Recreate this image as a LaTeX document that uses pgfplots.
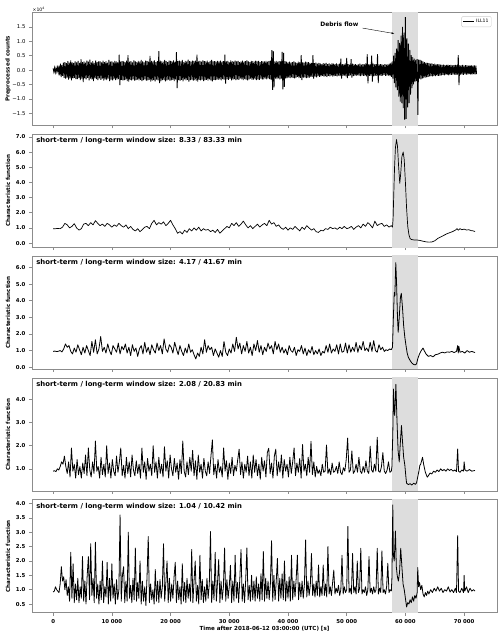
\documentclass[border=0pt]{standalone}
\usepackage{pgfplots}
\pgfplotsset{compat=1.18}
\usetikzlibrary{arrows.meta}
\usepackage{fontspec}
\setmainfont{DejaVu Sans}
\newcommand\tickfont{\fontsize{5.4}{6}\selectfont\bfseries}
\newcommand\labfont{\fontsize{5.6}{6.5}\selectfont\bfseries}
\newcommand\titfont{\fontsize{6.9}{7.5}\selectfont\bfseries}
\definecolor{spancol}{RGB}{221,221,221}
\definecolor{framecol}{RGB}{140,140,140}
\pgfplotsset{
  panel/.style={
    scale only axis, width=465bp, height=113bp,
    xmin=-3600, xmax=75600,
    scaled x ticks=false, scaled y ticks=false,
    xtick={0,10000,20000,30000,40000,50000,60000,70000},
    xticklabels={},
    tick pos=left, tick align=outside, major tick length=3bp,
    axis line style={framecol, line width=0.6pt},
    tick style={framecol, line width=0.6pt},
    tick label style={font=\tickfont},
    every axis y label/.style={at={(axis description cs:-0.0516,0.5)}, rotate=90, anchor=center, font=\labfont},
    ylabel={Characteristic function},
    clip=true, clip mode=individual,
    anchor=north west,
  },
  sig/.style={black, line width=0.8pt, line join=round},
}
\begin{document}
\begin{tikzpicture}
\useasboundingbox (-32bp,12.3bp) rectangle (468bp,-623.7bp);

% ---------------- Panel 1
\begin{axis}[panel, at={(0bp,0bp)},
  ymin=-1.92, ymax=2.01,
  ytick={-1.5,-1,-0.5,0,0.5,1,1.5},
  yticklabels={−1.5,−1.0,−0.5,0.0,0.5,1.0,1.5},
  yticklabel style={font=\fontsize{5.4}{6}\selectfont},
  ylabel={Preprocessed counts},
  legend style={at={(rel axis cs:0.988,0.965)}, anchor=north east, draw=gray!40, rounded corners=1.2pt,
    font=\fontsize{4.6}{5}\selectfont, inner sep=0.8pt},
  legend image code/.code={\draw[black, line width=0.7pt] (0bp,0bp) -- (11bp,0bp);},
]
\addplot[fill=spancol, draw=none, forget plot] coordinates {(57800,-50)(62100,-50)(62100,50)(57800,50)};
\addplot[black, line width=0.85pt] table[x expr=\coordindex*125, y index=0, header=false, row sep=\\] {
0.06\\-0.07\\0.08\\-0.08\\0.07\\-0.06\\0.09\\-0.08\\
0.15\\-0.18\\0.22\\-0.24\\0.18\\-0.20\\0.26\\-0.27\\
0.28\\-0.30\\0.24\\-0.26\\0.31\\-0.33\\0.26\\-0.28\\0.34\\-0.36\\0.27\\-0.29\\0.25\\-0.27\\0.30\\-0.31\\
0.27\\-0.31\\0.32\\-0.28\\0.25\\-0.35\\0.38\\-0.30\\0.28\\-0.42\\0.30\\-0.29\\0.26\\-0.32\\0.33\\-0.27\\0.29\\-0.36\\0.36\\-0.30\\0.27\\-0.33\\0.31\\-0.38\\0.25\\-0.28\\0.34\\-0.31\\0.28\\-0.35\\0.30\\-0.29\\
0.30\\-0.34\\0.27\\-0.30\\0.33\\-0.37\\0.28\\-0.32\\0.31\\-0.35\\0.26\\-0.30\\0.35\\-0.38\\0.29\\-0.33\\0.30\\-0.36\\0.27\\-0.31\\0.32\\-0.35\\0.30\\-0.33\\0.28\\-0.31\\0.54\\-0.52\\0.29\\-0.34\\0.31\\-0.36\\
0.30\\-0.35\\0.28\\-0.33\\0.33\\-0.38\\0.52\\-0.40\\0.29\\-0.34\\0.31\\-0.36\\0.27\\-0.32\\0.34\\-0.37\\0.30\\-0.35\\0.28\\-0.33\\0.32\\-0.36\\0.29\\-0.34\\0.35\\-0.38\\0.30\\-0.35\\0.27\\-0.32\\0.33\\-0.37\\
0.31\\-0.36\\0.29\\-0.34\\0.49\\-0.40\\0.32\\-0.37\\0.30\\-0.35\\0.34\\-0.39\\0.28\\-0.33\\0.31\\-0.36\\0.66\\-0.45\\0.33\\-0.38\\0.30\\-0.35\\0.29\\-0.34\\0.35\\-0.39\\0.31\\-0.36\\0.28\\-0.33\\0.33\\-0.37\\
0.32\\-0.36\\0.30\\-0.34\\0.34\\-0.38\\0.29\\-0.33\\0.62\\-0.63\\0.31\\-0.35\\0.33\\-0.37\\0.30\\-0.34\\0.35\\-0.39\\0.28\\-0.32\\0.32\\-0.36\\0.30\\-0.34\\0.36\\-0.40\\0.31\\-0.35\\0.29\\-0.33\\0.33\\-0.37\\
0.31\\-0.35\\0.33\\-0.37\\0.54\\-0.40\\0.30\\-0.34\\0.32\\-0.36\\0.29\\-0.33\\0.34\\-0.38\\0.31\\-0.35\\0.30\\-0.34\\0.33\\-0.37\\0.28\\-0.32\\0.32\\-0.36\\0.35\\-0.39\\0.30\\-0.34\\0.31\\-0.35\\0.29\\-0.33\\
0.32\\-0.34\\0.30\\-0.32\\0.33\\-0.36\\0.29\\-0.31\\0.31\\-0.33\\0.54\\-0.47\\0.30\\-0.32\\0.32\\-0.34\\0.28\\-0.30\\0.34\\-0.36\\0.31\\-0.33\\0.29\\-0.31\\0.33\\-0.35\\0.30\\-0.32\\0.32\\-0.34\\0.28\\-0.30\\
0.30\\-0.32\\0.33\\-0.35\\0.29\\-0.31\\0.31\\-0.33\\0.34\\-0.36\\0.30\\-0.32\\0.28\\-0.30\\0.32\\-0.34\\0.31\\-0.33\\0.29\\-0.31\\0.33\\-0.35\\0.30\\-0.32\\0.32\\-0.34\\0.28\\-0.30\\0.31\\-0.33\\0.30\\-0.32\\
0.30\\-0.30\\0.32\\-0.32\\0.29\\-0.29\\0.31\\-0.31\\0.33\\-0.33\\0.69\\-0.69\\0.66\\-0.60\\0.30\\-0.30\\0.32\\-0.31\\0.29\\-0.29\\0.31\\-0.32\\0.30\\-0.30\\0.63\\-0.67\\0.60\\-0.58\\0.31\\-0.30\\0.29\\-0.28\\
0.27\\-0.26\\0.29\\-0.28\\0.26\\-0.25\\0.28\\-0.27\\0.30\\-0.29\\0.27\\-0.26\\0.25\\-0.24\\0.29\\-0.28\\0.28\\-0.27\\0.52\\-0.35\\0.27\\-0.26\\0.26\\-0.25\\0.29\\-0.28\\0.27\\-0.26\\0.28\\-0.27\\0.25\\-0.24\\
0.25\\-0.24\\0.52\\-0.30\\0.24\\-0.23\\0.26\\-0.25\\0.22\\-0.21\\0.25\\-0.24\\0.23\\-0.22\\0.21\\-0.20\\0.24\\-0.23\\0.22\\-0.21\\0.25\\-0.24\\0.21\\-0.20\\0.23\\-0.22\\0.20\\-0.19\\0.24\\-0.23\\0.22\\-0.21\\
0.21\\-0.20\\0.23\\-0.22\\0.20\\-0.19\\0.22\\-0.21\\0.40\\-0.30\\0.21\\-0.20\\0.20\\-0.19\\0.23\\-0.22\\0.42\\-0.28\\0.21\\-0.20\\0.19\\-0.18\\0.38\\-0.26\\0.22\\-0.21\\0.20\\-0.19\\0.21\\-0.20\\0.19\\-0.18\\
0.20\\-0.19\\0.22\\-0.21\\0.19\\-0.18\\0.21\\-0.20\\0.20\\-0.19\\0.23\\-0.22\\0.55\\-0.46\\0.21\\-0.20\\0.20\\-0.19\\0.50\\-0.40\\0.22\\-0.21\\0.20\\-0.19\\0.21\\-0.20\\0.55\\-0.45\\0.20\\-0.19\\0.21\\-0.20\\
0.20\\-0.19\\0.18\\-0.17\\0.21\\-0.20\\0.19\\-0.18\\0.20\\-0.19\\0.22\\-0.21\\0.25\\-0.24\\
0.30\\-0.30\\0.50\\-0.45\\0.60\\-0.60\\0.75\\-0.70\\1.04\\-0.92\\0.95\\-1.10\\1.20\\-1.15\\1.50\\-1.32\\1.30\\-1.73\\1.84\\-1.70\\1.10\\-1.30\\0.92\\-1.15\\0.70\\-0.85\\0.52\\-0.63\\0.45\\-0.50\\0.40\\-0.42\\0.35\\-0.38\\0.38\\-1.56\\
0.36\\-0.30\\0.35\\-0.32\\0.33\\-0.30\\0.30\\-0.28\\0.28\\-0.26\\0.26\\-0.25\\0.25\\-0.24\\0.24\\-0.22\\0.22\\-0.21\\0.23\\-0.22\\0.21\\-0.20\\0.22\\-0.21\\0.20\\-0.19\\0.21\\-0.20\\0.20\\-0.19\\0.19\\-0.18\\
0.18\\-0.17\\0.19\\-0.18\\0.17\\-0.16\\0.18\\-0.17\\0.19\\-0.18\\0.17\\-0.16\\0.18\\-0.17\\0.16\\-0.15\\0.17\\-0.16\\0.18\\-0.17\\0.17\\-0.16\\
0.52\\-0.52\\
0.17\\-0.16\\0.16\\-0.15\\0.18\\-0.17\\0.15\\-0.14\\0.17\\-0.16\\0.16\\-0.15\\0.15\\-0.14\\0.17\\-0.16\\0.16\\-0.15\\0.15\\-0.14\\0.16\\-0.15\\0.15\\-0.14\\
};
\addlegendentry{ILL11}
\node[anchor=south west, font=\fontsize{4.6}{5}\selectfont, inner sep=0.5pt] at (rel axis cs:0,1) {×10\textsuperscript{4}};
\node[font=\fontsize{6}{7}\selectfont\bfseries, anchor=center] at (axis cs:48750,1.59) {Debris flow};
\draw[-{Stealth[length=3pt,width=2pt]}, line width=0.4pt] (axis cs:52700,1.46) -- (axis cs:58090,1.27);
\end{axis}

% ---------------- Panel 2
\begin{axis}[panel, at={(0bp,-121.85bp)},
  ymin=-0.27, ymax=7.19,
  ytick={0,1,2,3,4,5,6,7},
  yticklabels={0.0,1.0,2.0,3.0,4.0,5.0,6.0,7.0},
]
\addplot[fill=spancol, draw=none, forget plot] coordinates {(57800,-50)(62100,-50)(62100,50)(57800,50)};
\addplot[sig, line width=0.7pt] table[x expr=\coordindex*400, y index=0, header=false, row sep=\\] {
0.95\\0.95\\0.96\\0.95\\1.05\\1.3\\1.2\\1.0\\1.1\\1.28\\
1.0\\0.85\\0.95\\1.25\\1.3\\1.15\\1.35\\1.2\\1.48\\1.3\\
1.15\\1.25\\1.1\\1.3\\1.2\\1.05\\1.2\\1.1\\1.3\\1.15\\
1.05\\1.2\\0.95\\1.1\\0.9\\0.8\\0.95\\0.75\\0.9\\1.05\\
1.1\\0.95\\1.3\\1.5\\1.2\\1.35\\1.25\\1.4\\1.15\\1.3\\
1.5\\1.2\\0.95\\0.65\\0.75\\0.6\\0.85\\0.7\\0.95\\0.8\\
1.0\\0.85\\1.05\\0.8\\0.95\\0.85\\0.9\\0.75\\0.85\\0.7\\
0.9\\0.65\\0.8\\0.95\\1.1\\1.0\\1.3\\1.15\\1.35\\1.1\\
1.25\\1.45\\1.2\\1.0\\1.15\\0.95\\1.1\\1.25\\1.05\\1.2\\
1.3\\1.15\\1.5\\1.25\\1.35\\1.1\\1.2\\1.0\\0.9\\1.05\\
0.85\\1.0\\0.9\\1.1\\0.95\\0.8\\1.05\\0.9\\1.15\\1.0\\
0.85\\0.95\\0.75\\0.7\\0.85\\0.8\\0.95\\0.9\\1.05\\0.95\\
1.0\\0.9\\1.05\\0.95\\1.1\\0.95\\1.0\\1.1\\0.9\\1.05\\
1.15\\1.0\\1.25\\1.1\\1.35\\1.2\\1.0\\1.45\\1.15\\1.25\\
1.3\\1.1\\1.2\\1.05\\1.15\\
};
\addplot[sig, line width=0.7pt] coordinates {(57600,1.15)(57800,1.05)(57900,1.6)(58000,3.0)(58150,5.0)(58300,6.3)(58480,6.83)(58650,6.4)(58850,5.0)(59040,3.94)(59200,4.6)(59400,5.7)(59620,6.01)(59800,5.5)(60000,4.0)(60200,2.3)(60400,1.1)(60600,0.55)(60800,0.3)(61000,0.24)(61500,0.2)(62000,0.2)(62500,0.17)(63000,0.12)(63500,0.08)(64000,0.06)(64500,0.07)(65000,0.15)(65500,0.3)(66000,0.4)(66500,0.5)(67000,0.6)(67500,0.68)(68000,0.75)(68500,0.85)(68800,0.95)(69000,0.85)(69300,0.95)(69600,0.88)(70000,0.92)(70400,0.86)(70800,0.88)(71200,0.82)(71600,0.8)(71850,0.76)};
\node[anchor=north west, font=\titfont, inner sep=0pt] at (rel axis cs:0.009,0.972) {short-term / long-term window size: 8.33 / 83.33 min};
\end{axis}

% ---------------- Panel 3
\begin{axis}[panel, at={(0bp,-243.7bp)},
  ymin=-0.11, ymax=6.7,
  ytick={0,1,2,3,4,5,6},
  yticklabels={0.0,1.0,2.0,3.0,4.0,5.0,6.0},
]
\addplot[fill=spancol, draw=none, forget plot] coordinates {(57800,-50)(62100,-50)(62100,50)(57800,50)};
\addplot[sig] table[x expr=\coordindex*300, y index=0, header=false, row sep=\\] {
0.95\\0.97\\0.94\\0.96\\1.0\\0.92\\1.1\\1.4\\1.2\\1.3\\
0.95\\0.8\\1.15\\0.9\\1.35\\1.05\\0.75\\1.2\\0.85\\1.3\\
1.0\\0.7\\1.55\\0.9\\1.65\\0.8\\1.1\\1.85\\0.95\\1.2\\
0.85\\1.4\\1.0\\0.75\\1.3\\1.1\\0.9\\1.45\\0.8\\1.25\\
1.05\\1.4\\0.85\\1.2\\0.7\\1.35\\0.95\\1.15\\0.65\\1.1\\
1.3\\0.8\\1.5\\0.9\\1.2\\0.75\\1.35\\1.05\\0.85\\1.45\\
1.0\\1.3\\0.8\\1.7\\1.1\\0.9\\1.35\\1.2\\0.85\\1.5\\
1.1\\0.75\\1.3\\0.95\\0.7\\1.15\\0.85\\1.4\\0.9\\1.05\\
0.75\\0.5\\0.85\\0.65\\1.2\\0.8\\1.65\\0.9\\1.3\\1.05\\
1.2\\0.7\\1.1\\0.85\\0.6\\1.0\\0.65\\1.55\\0.9\\0.7\\
1.1\\0.85\\1.4\\0.95\\1.8\\1.1\\1.45\\0.8\\1.3\\0.95\\
1.55\\0.85\\1.2\\0.7\\1.4\\1.0\\1.6\\0.9\\1.3\\0.75\\
1.2\\0.95\\1.45\\1.1\\1.3\\0.8\\1.55\\1.05\\1.4\\0.9\\
1.2\\0.85\\1.1\\0.75\\1.3\\1.0\\0.9\\1.2\\0.7\\1.05\\
0.95\\1.3\\0.8\\1.15\\0.7\\1.05\\0.85\\1.25\\0.75\\1.0\\
0.8\\1.1\\0.7\\0.95\\0.85\\1.3\\0.9\\1.4\\0.85\\1.1\\
0.95\\1.35\\0.8\\1.4\\0.9\\0.95\\1.45\\0.85\\1.35\\0.9\\
1.2\\0.95\\1.5\\0.9\\1.3\\1.05\\1.55\\1.0\\1.15\\0.95\\
1.5\\0.95\\1.6\\1.0\\0.9\\1.35\\1.05\\1.2\\0.95\\1.05\\
1.0\\1.1\\1.05\\
};
\addplot[sig] coordinates {(57600,1.05)(57800,1.2)(57950,3.0)(58100,4.5)(58200,4.3)(58360,6.3)(58500,5.0)(58650,3.0)(58770,2.1)(58950,3.0)(59150,4.2)(59300,4.45)(59500,3.6)(59700,2.5)(59900,1.8)(60100,1.3)(60300,0.85)(60500,0.6)(60800,0.4)(61100,0.25)(61400,0.16)(61700,0.14)(61900,0.2)(62100,0.5)(62400,0.8)(62700,1.0)(63000,1.15)(63200,1.0)(63500,0.8)(63900,0.65)(64300,0.7)(64700,0.62)(65100,0.75)(65500,0.78)(65900,0.85)(66300,0.9)(66700,0.86)(67100,0.92)(67500,0.9)(67900,0.95)(68300,0.88)(68700,0.95)(68900,1.3)(69000,0.85)(69100,1.25)(69300,0.9)(69700,0.95)(70100,0.85)(70500,1.0)(70900,0.9)(71300,0.95)(71850,0.88)};
\node[anchor=north west, font=\titfont, inner sep=0pt] at (rel axis cs:0.009,0.972) {short-term / long-term window size: 4.17 / 41.67 min};
\end{axis}

% ---------------- Panel 4
\begin{axis}[panel, at={(0bp,-365.55bp)},
  ymin=0.05, ymax=4.93,
  ytick={1,2,3,4},
  yticklabels={1.0,2.0,3.0,4.0},
]
\addplot[fill=spancol, draw=none, forget plot] coordinates {(57800,-50)(62100,-50)(62100,50)(57800,50)};
\addplot[sig] table[x expr=\coordindex*240, y index=0, header=false, row sep=\\] {
0.9\\0.92\\0.88\\1.0\\0.95\\1.1\\1.3\\1.2\\1.55\\1.1\\
0.8\\1.3\\0.65\\1.9\\0.9\\1.2\\0.6\\1.4\\0.75\\1.1\\
0.6\\1.25\\0.8\\1.6\\0.7\\1.9\\0.95\\0.65\\1.3\\0.8\\
2.2\\0.9\\1.1\\0.6\\1.5\\0.75\\1.2\\0.65\\2.0\\0.8\\
1.25\\0.6\\1.4\\0.9\\0.7\\1.55\\0.85\\1.3\\1.9\\0.7\\
1.15\\0.6\\1.5\\0.8\\1.3\\0.65\\1.6\\0.95\\0.7\\1.35\\
0.8\\1.2\\0.6\\1.9\\0.85\\1.3\\0.55\\1.45\\0.9\\1.2\\
0.7\\2.0\\0.85\\1.3\\0.6\\1.5\\0.8\\1.2\\0.65\\1.95\\
0.9\\1.35\\0.6\\1.6\\1.0\\0.7\\1.45\\0.85\\1.25\\0.55\\
1.4\\0.8\\2.2\\0.9\\0.65\\1.3\\0.75\\1.5\\0.9\\1.8\\
0.7\\1.35\\0.55\\1.6\\0.85\\1.2\\0.6\\1.45\\0.9\\0.7\\
1.3\\0.8\\1.55\\2.25\\0.75\\1.2\\0.6\\1.4\\0.85\\1.1\\
0.65\\1.9\\0.9\\1.35\\0.55\\1.25\\0.8\\1.5\\0.7\\1.15\\
0.9\\1.4\\1.85\\0.75\\1.3\\0.6\\1.2\\0.85\\1.55\\0.7\\
1.3\\0.6\\1.6\\0.85\\1.4\\0.7\\1.2\\0.55\\1.5\\0.9\\
1.35\\0.65\\1.7\\1.89\\0.8\\1.25\\0.6\\1.55\\1.85\\0.7\\
1.3\\0.85\\1.6\\0.6\\1.4\\0.9\\1.2\\0.65\\1.5\\0.8\\
1.3\\1.9\\0.7\\1.25\\0.85\\1.45\\0.6\\2.05\\0.9\\1.2\\
0.7\\1.5\\0.85\\2.19\\0.75\\1.3\\0.65\\1.1\\0.8\\0.95\\
0.7\\1.2\\0.85\\0.9\\2.03\\0.8\\1.0\\0.75\\1.25\\0.85\\
0.9\\1.1\\0.8\\1.3\\0.85\\0.75\\1.05\\0.9\\1.4\\2.33\\
0.85\\0.95\\1.77\\0.8\\0.9\\1.2\\0.85\\1.5\\0.9\\0.8\\
1.1\\0.85\\1.35\\0.9\\0.8\\1.98\\0.95\\0.85\\1.2\\0.9\\
2.36\\0.9\\0.85\\1.1\\1.7\\0.9\\0.8\\0.95\\1.3\\0.85\\
0.9\\
};
\addplot[sig] coordinates {(57600,0.9)(57700,1.1)(57850,2.5)(57970,4.45)(58080,3.6)(58180,3.3)(58300,4.1)(58380,4.65)(58550,3.2)(58750,1.8)(58950,1.3)(59150,2.2)(59330,2.87)(59500,2.2)(59700,1.5)(59900,1.16)(60100,0.6)(60200,0.38)(60500,0.32)(60800,0.36)(61100,0.3)(61400,0.38)(61700,0.33)(61900,0.4)(62100,0.65)(62300,0.9)(62460,1.15)(62600,1.2)(62920,1.5)(63100,1.2)(63400,0.85)(63720,0.64)(63900,0.7)(64200,0.82)(64500,0.78)(64800,0.9)(65100,0.85)(65400,0.95)(65700,0.88)(66000,1.0)(66300,0.92)(66600,0.97)(66900,0.9)(67200,1.0)(67500,0.93)(67800,0.98)(68100,0.9)(68400,0.95)(68700,0.88)(68900,1.86)(69050,0.9)(69300,0.85)(69600,0.95)(69900,0.9)(70000,1.3)(70150,0.95)(70500,0.9)(70900,0.97)(71300,0.9)(71850,0.93)};
\node[anchor=north west, font=\titfont, inner sep=0pt] at (rel axis cs:0.009,0.972) {short-term / long-term window size: 2.08 / 20.83 min};
\end{axis}

% ---------------- Panel 5
\begin{axis}[panel, at={(0bp,-487.4bp)},
  ymin=0.2, ymax=4.13,
  ytick={0.5,1,1.5,2,2.5,3,3.5,4},
  yticklabels={0.5,1.0,1.5,2.0,2.5,3.0,3.5,4.0},
  xticklabels={0,10 000,20 000,30 000,40 000,50 000,60 000,70 000},
  xlabel={Time after 2018-06-12 03:00:00 (UTC) [s]},
  every axis x label/.style={at={(axis description cs:0.5,-0.139)}, anchor=center, font=\labfont},
]
\addplot[fill=spancol, draw=none, forget plot] coordinates {(57800,-50)(62100,-50)(62100,50)(57800,50)};
\addplot[sig] table[x expr=\coordindex*200, y index=0, header=false, row sep=\\] {
0.92\\0.95\\1.1\\1.0\\0.95\\0.9\\1.2\\1.8\\1.3\\1.45\\
1.0\\1.35\\0.8\\1.1\\0.6\\2.3\\0.7\\1.9\\0.55\\1.2\\
0.65\\1.4\\0.55\\1.1\\0.7\\2.15\\0.6\\1.3\\0.5\\1.5\\
2.15\\0.65\\2.6\\0.8\\1.4\\0.55\\2.65\\0.7\\1.2\\0.5\\
1.3\\0.65\\2.0\\0.55\\1.1\\0.75\\1.95\\0.5\\1.4\\0.6\\
1.9\\0.7\\1.2\\0.5\\1.35\\0.65\\1.0\\3.6\\0.6\\1.5\\
1.8\\0.55\\1.3\\0.6\\3.0\\0.7\\1.15\\0.55\\1.4\\0.65\\
2.45\\0.6\\1.25\\0.7\\2.0\\0.5\\1.3\\0.6\\1.1\\0.45\\
1.5\\2.85\\0.55\\1.2\\0.65\\1.0\\0.5\\1.7\\0.6\\1.3\\
0.55\\1.35\\0.7\\1.1\\2.6\\0.6\\1.25\\2.0\\0.55\\1.4\\
0.6\\1.2\\0.7\\1.45\\1.95\\0.55\\1.3\\0.65\\1.1\\0.5\\
1.9\\0.6\\1.25\\0.55\\1.4\\0.7\\1.2\\0.6\\2.4\\0.55\\
1.3\\2.0\\0.6\\1.15\\0.5\\2.2\\0.65\\1.35\\0.55\\1.1\\
0.6\\1.4\\0.7\\1.2\\3.02\\0.55\\1.3\\0.65\\2.3\\0.6\\
1.25\\2.05\\0.55\\1.3\\0.65\\1.1\\2.45\\0.6\\1.35\\0.7\\
1.1\\1.85\\0.55\\1.3\\0.6\\2.2\\0.7\\1.25\\0.55\\1.4\\
2.4\\0.6\\1.2\\0.55\\1.35\\2.45\\0.65\\1.15\\0.6\\1.5\\
0.65\\1.3\\0.6\\1.45\\0.7\\1.2\\0.6\\1.55\\0.65\\2.33\\
0.6\\1.4\\0.7\\1.3\\0.65\\1.2\\2.7\\0.6\\1.5\\0.65\\
1.3\\2.09\\0.6\\1.4\\0.7\\1.55\\0.65\\2.0\\0.6\\1.3\\
0.7\\1.45\\0.6\\2.2\\0.65\\1.3\\0.75\\1.4\\2.2\\0.65\\
1.25\\0.75\\1.3\\0.7\\1.2\\2.73\\0.75\\1.3\\0.8\\1.15\\
2.26\\0.8\\1.2\\0.75\\1.3\\0.8\\1.86\\0.75\\1.1\\0.8\\
1.86\\0.8\\1.2\\0.75\\2.5\\0.85\\1.1\\0.8\\1.25\\1.68\\
0.85\\1.05\\0.9\\1.15\\0.8\\1.0\\2.2\\0.85\\1.1\\0.9\\
1.0\\3.2\\0.9\\1.05\\0.85\\2.26\\0.9\\1.1\\0.85\\2.0\\
0.9\\1.05\\2.44\\0.85\\1.0\\0.9\\1.1\\0.8\\1.0\\2.15\\
0.9\\1.05\\0.85\\1.1\\0.9\\1.0\\2.44\\0.85\\1.05\\0.9\\
2.35\\0.9\\1.0\\0.85\\1.1\\1.92\\0.9\\1.0\\0.95\\
};
\addplot[sig] coordinates {(57600,0.95)(57700,1.4)(57850,3.95)(57950,2.2)(58100,2.0)(58300,3.04)(58450,1.8)(58600,1.5)(58800,1.3)(59000,1.6)(59200,2.44)(59400,1.8)(59600,1.2)(59800,1.0)(60000,0.7)(60200,0.4)(60400,0.55)(60600,0.5)(60800,0.65)(61000,0.55)(61200,0.75)(61400,0.6)(61600,0.8)(61800,0.7)(62000,0.9)(62100,1.77)(62250,1.1)(62400,1.25)(62600,1.0)(62800,1.15)(63000,0.85)(63200,0.75)(63400,0.9)(63600,0.8)(63800,0.95)(64000,0.85)(64300,1.0)(64600,0.9)(64900,1.05)(65200,0.95)(65500,1.1)(65800,0.95)(66100,1.05)(66400,0.9)(66700,1.0)(67000,0.95)(67300,1.1)(67600,0.92)(67900,1.0)(68200,0.9)(68500,1.05)(68700,0.9)(68900,2.88)(69050,0.95)(69300,0.9)(69600,1.05)(69900,0.9)(70000,1.5)(70100,0.95)(70400,1.1)(70700,0.9)(71000,1.05)(71300,0.95)(71600,1.0)(71850,0.95)};
\node[anchor=north west, font=\titfont, inner sep=0pt] at (rel axis cs:0.009,0.972) {short-term / long-term window size: 1.04 / 10.42 min};
\end{axis}
\end{tikzpicture}
\end{document}
